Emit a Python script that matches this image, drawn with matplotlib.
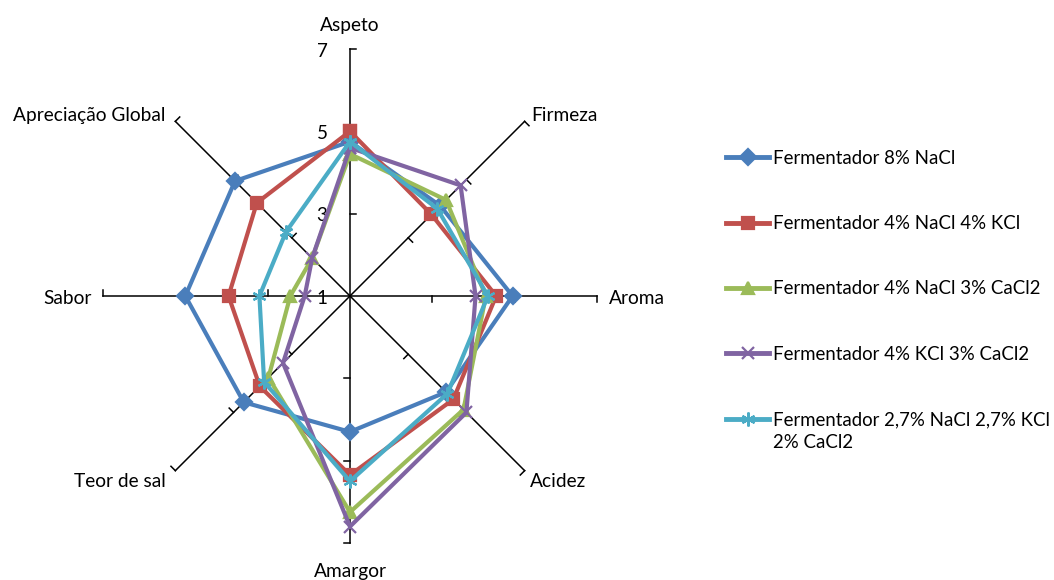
import numpy as np
import matplotlib
matplotlib.use('Agg')
import matplotlib.pyplot as plt

plt.rcParams['font.family'] = ['Lato', 'DejaVu Sans']

# dados (escala 1 a 7)
categorias = ['Aspeto', 'Firmeza', 'Aroma', 'Acidez', 'Amargor',
              'Teor de sal', 'Sabor', 'Apreciação Global']
series = ['Fermentador 8% NaCl',
          'Fermentador 4% NaCl 4% KCl',
          'Fermentador 4% NaCl 3% CaCl2',
          'Fermentador 4% KCl 3% CaCl2',
          'Fermentador 2,7% NaCl 2,7% KCl']
resto_ultima = '2% CaCl2'
nacl8 = [4.75, 4.1, 4.95, 4.3, 4.3, 4.65, 5.0, 4.95]
nacl4_kcl4 = [5.0, 3.8, 4.55, 4.55, 5.35, 4.1, 3.95, 4.2]
nacl4_cacl3 = [4.45, 4.3, 4.3, 4.9, 6.25, 3.8, 2.45, 2.3]
kcl4_cacl3 = [4.6, 4.8, 4.05, 5.0, 6.6, 3.3, 2.1, 2.3]
mistura = [4.75, 4.0, 4.35, 4.35, 5.5, 3.95, 3.2, 3.2]
escala = [1, 3, 5, 7]

cores = ['#4A7EBB', '#C0504D', '#9BBB59', '#8064A2', '#4BACC6']
marcadores = ['D', 's', '^', 'x', (6, 2, 0)]
tam = [8, 9, 9, 9, 10]

fig = plt.figure(figsize=(10.54, 5.8), dpi=100)
ax = fig.add_axes([0.0977, 0.0638, 0.4687, 0.8517], projection='polar')
ax.set_theta_zero_location('N')
ax.set_theta_direction(-1)
ax.set_ylim(escala[0], escala[-1])
ax.grid(False)
ax.spines['polar'].set_visible(False)
ax.set_xticks([])
ax.set_yticks([])
ax.patch.set_alpha(0)

ang = np.linspace(0, 2 * np.pi, len(categorias), endpoint=False)

# eixos radiais com marcas
L = 0.15
for a in ang:
    ax.plot([a, a], [escala[0], escala[-1]], color='black', lw=1.1, zorder=1, clip_on=False)
    for r in escala[1:]:
        d = r - escala[0]
        ax.plot([a, a + np.arctan(L / d)], [r, escala[0] + np.hypot(d, L)],
                color='black', lw=1.1, zorder=1, clip_on=False)

# rotulos da escala
for r in escala:
    ax.annotate(str(r), xy=(0, r), xytext=(-28, -2), textcoords='offset pixels',
                ha='center', va='center', fontsize=13.5)

# rotulos das categorias
desloc = [(0, 24, 'center'), (7, 6, 'left'), (12, -2, 'left'), (5, -11, 'left'),
          (0, -29, 'center'), (-10, -11, 'right'), (-11, -2, 'right'), (-10, 6, 'right')]
for a, nome, (dx, dy, ha) in zip(ang, categorias, desloc):
    ax.annotate(nome, xy=(a, escala[-1]), xytext=(dx, dy), textcoords='offset pixels',
                ha=ha, va='center', fontsize=13.8, annotation_clip=False)

dados = [nacl8, nacl4_kcl4, nacl4_cacl3, kcl4_cacl3, mistura]
angf = np.append(ang, ang[0])
for vals, nome, c, m, s in zip(dados, series, cores, marcadores, tam):
    v = np.append(vals, vals[0])
    ax.plot(angf, v, color=c, lw=3, marker=m, markersize=s, mew=1.6,
            mec=c, mfc=c, label=nome, zorder=3, clip_on=False)

leg = fig.legend(loc='upper left', bbox_to_anchor=(0.689, 0.742), frameon=False,
                 fontsize=13.4, handlelength=2.3, handletextpad=0.2, labelspacing=2.6,
                 borderpad=0, borderaxespad=0, numpoints=1)
for h in leg.get_lines():
    h.set_linewidth(3.5)

# segunda linha do ultimo rotulo da legenda
fig.canvas.draw()
bb = leg.get_texts()[-1].get_window_extent()
fig.text(bb.x0 / fig.bbox.width, (bb.y0 - 6) / fig.bbox.height, resto_ultima,
         ha='left', va='top', fontsize=13.4)

fig.savefig('out.png', dpi=100)
